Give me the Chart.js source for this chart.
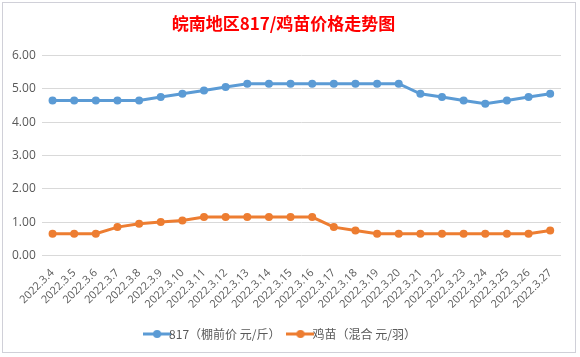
<!DOCTYPE html>
<html><head><meta charset="utf-8">
<script src="https://cdn.jsdelivr.net/npm/chart.js@4.4.0/dist/chart.umd.min.js"></script>
<style>
html,body{margin:0;padding:0;width:580px;height:357px;overflow:hidden;background:#fff;}
#frame{position:absolute;left:2px;top:2px;width:572px;height:349px;border:1px solid #d0d0d8;background:#fff;}
#c{position:absolute;left:0;top:0;}
</style></head>
<body>
<div id="frame"><canvas id="c" width="572" height="349"></canvas></div>
<script>
const categories = ["2022.3.4","2022.3.5","2022.3.6","2022.3.7","2022.3.8","2022.3.9","2022.3.10","2022.3.11","2022.3.12","2022.3.13","2022.3.14","2022.3.15","2022.3.16","2022.3.17","2022.3.18","2022.3.19","2022.3.20","2022.3.21","2022.3.22","2022.3.23","2022.3.24","2022.3.25","2022.3.26","2022.3.27"];
const series817 = [4.65,4.65,4.65,4.65,4.65,4.75,4.85,4.95,5.05,5.15,5.15,5.15,5.15,5.15,5.15,5.15,5.15,4.85,4.75,4.65,4.55,4.65,4.75,4.85];
const seriesChick = [0.65,0.65,0.65,0.85,0.95,1.00,1.05,1.15,1.15,1.15,1.15,1.15,1.15,0.85,0.75,0.65,0.65,0.65,0.65,0.65,0.65,0.65,0.65,0.75];
const seriesNames = ["817（棚前价 元/斤）","鸡苗（混合 元/羽）"];
const titleText = "皖南地区817/鸡苗价格走势图";
const yTicks = [0,1,2,3,4,5,6];

function legendIcon(color){
  const c=document.createElement('canvas'); c.width=28; c.height=10;
  const g=c.getContext('2d');
  g.strokeStyle=color; g.lineWidth=3; g.beginPath(); g.moveTo(0,5); g.lineTo(28,5); g.stroke();
  g.fillStyle=color; g.beginPath(); g.arc(14,5,4,0,Math.PI*2); g.fill();
  return c;
}
const blue="#5B9BD5", orange="#ED7D31";
new Chart(document.getElementById('c'),{
  type:'line',
  data:{labels:categories,datasets:[
    {label:seriesNames[0],data:series817,borderColor:blue,backgroundColor:blue,borderWidth:3,pointRadius:4,pointHoverRadius:4,pointBackgroundColor:blue,pointBorderWidth:0,tension:0,pointStyle:'circle'},
    {label:seriesNames[1],data:seriesChick,borderColor:orange,backgroundColor:orange,borderWidth:3,pointRadius:4,pointHoverRadius:4,pointBackgroundColor:orange,pointBorderWidth:0,tension:0,pointStyle:'circle'}
  ]},
  options:{
    responsive:false,animation:false,
    layout:{padding:{left:3,right:14,top:0,bottom:2}},
    plugins:{
      title:{display:true,text:titleText,color:'#FF0000',font:{family:'"Noto Sans CJK SC", sans-serif',size:17,weight:'bold'},padding:{top:10,bottom:22}},
      legend:{position:'bottom',labels:{usePointStyle:true,generateLabels:(ch)=>ch.data.datasets.map((d,i)=>({text:d.label,fillStyle:d.borderColor,strokeStyle:d.borderColor,fontColor:'#595959',pointStyle:legendIcon(d.borderColor),datasetIndex:i,lineWidth:0})),font:{family:'"Noto Sans CJK SC", sans-serif',size:12},color:'#595959',padding:14},padding:{top:0}},
      tooltip:{enabled:false}
    },
    scales:{
      x:{offset:true,grid:{display:false},border:{display:false},ticks:{color:'#595959',font:{family:'"Open Sans", sans-serif',size:11},minRotation:45,maxRotation:45,autoSkip:false,padding:3}},
      y:{min:0,max:6,grid:{color:'#D9D9D9',lineWidth:1,drawTicks:false},border:{display:false},afterBuildTicks:(ax)=>{ax.ticks=yTicks.map(v=>({value:v}));},ticks:{color:'#595959',font:{family:'"Open Sans", sans-serif',size:12},padding:6,callback:(v)=>Number(v).toFixed(2)}}
    }
  }
});
</script>
</body></html>
